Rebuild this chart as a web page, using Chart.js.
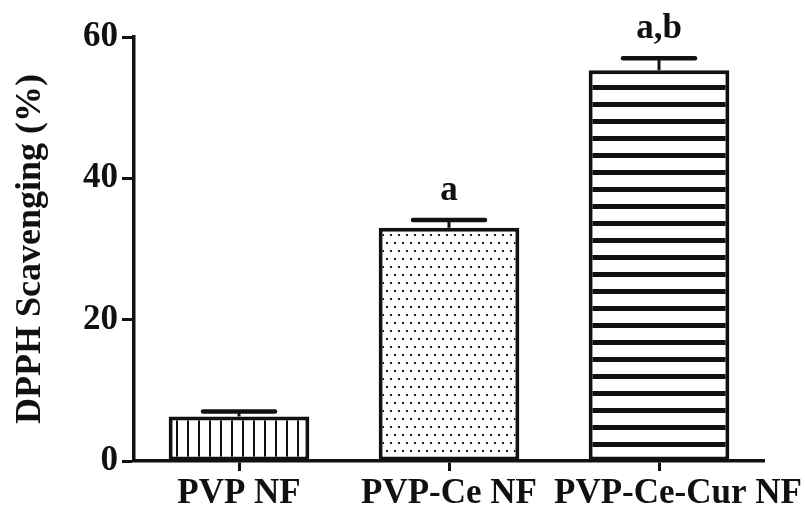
<!DOCTYPE html>
<html>
<head>
<meta charset="utf-8">
<script src="https://cdn.jsdelivr.net/npm/chart.js@4.4.1/dist/chart.umd.min.js"></script>
<style>
  html, body { margin: 0; padding: 0; background: #fff; }
  #wrap { width: 805px; height: 508px; position: relative; }
</style>
</head>
<body>
<div id="wrap"><canvas id="c" width="805" height="508"></canvas></div>
<script>
// ---- data ----
const categories = ['PVP NF', 'PVP-Ce NF', 'PVP-Ce-Cur NF'];
const scavenging = [6.3, 33.0, 55.3];
const errors = [0.7, 1.1, 1.7];
const sigLabels = ['', 'a', 'a,b'];
const yTicks = [0, 20, 40, 60];
const yTitle = 'DPPH Scavenging (%)';

const FONT = '"Liberation Serif", "Times New Roman", serif';
const labelShift = [0, 0, 19]; // horizontal nudge of category labels (px), as in the original figure

function makePattern(w, h, draw) {
  const c = document.createElement('canvas');
  c.width = w; c.height = h;
  const g = c.getContext('2d');
  g.fillStyle = '#fff'; g.fillRect(0, 0, w, h);
  draw(g);
  return document.getElementById('c').getContext('2d').createPattern(c, 'repeat');
}
const vLines = makePattern(11, 4, g => { g.fillStyle = '#111'; g.fillRect(0, 0, 2, 4); });
const dots = makePattern(8, 16, g => {
  g.fillStyle = '#222';
  g.fillRect(2, 2, 2, 2);
  g.fillRect(6, 10, 2, 2);
});
const hStripes = makePattern(4, 17, g => { g.fillStyle = '#111'; g.fillRect(0, 0, 4, 5); });

const errorBars = {
  id: 'errorBars',
  afterDatasetsDraw(chart) {
    const ctx = chart.ctx;
    const meta = chart.getDatasetMeta(0);
    const y = chart.scales.y;
    ctx.save();
    ctx.strokeStyle = '#111';
    ctx.fillStyle = '#111';
    meta.data.forEach((bar, i) => {
      const top = y.getPixelForValue(scavenging[i]);
      const hi = y.getPixelForValue(scavenging[i] + errors[i]);
      const x = bar.x;
      ctx.lineWidth = 3;
      ctx.beginPath(); ctx.moveTo(x, top); ctx.lineTo(x, hi); ctx.stroke();
      ctx.lineWidth = 4.5; ctx.lineCap = 'round';
      ctx.beginPath(); ctx.moveTo(x - 36, hi); ctx.lineTo(x + 36, hi); ctx.stroke();
      ctx.lineCap = 'butt';
      if (sigLabels[i]) {
        ctx.font = 'bold 35px ' + FONT;
        ctx.textAlign = 'center';
        ctx.textBaseline = 'alphabetic';
        ctx.fillText(sigLabels[i], x, hi - 20);
      }
    });
    ctx.restore();
  }
};

const xLabels = {
  id: 'xLabels',
  afterDraw(chart) {
    const ctx = chart.ctx;
    const xs = chart.scales.x;
    ctx.save();
    ctx.fillStyle = '#111';
    ctx.font = 'bold 35px ' + FONT;
    ctx.textAlign = 'center';
    ctx.textBaseline = 'alphabetic';
    categories.forEach((c, i) => {
      ctx.fillText(c, xs.getPixelForTick(i) + labelShift[i], xs.bottom - 5);
    });
    ctx.restore();
  }
};

new Chart(document.getElementById('c'), {
  type: 'bar',
  data: {
    labels: categories,
    datasets: [{
      data: scavenging,
      backgroundColor: [vLines, dots, hStripes],
      borderColor: '#111',
      borderWidth: 4,
      borderSkipped: false,
      categoryPercentage: 1.0,
      barPercentage: 0.67
    }]
  },
  options: {
    responsive: false,
    animation: false,
    devicePixelRatio: 1,
    layout: { padding: { top: 37, right: 41, left: 0, bottom: 0 } },
    plugins: { legend: { display: false }, tooltip: { enabled: false } },
    scales: {
      x: {
        grid: { display: true, drawOnChartArea: false, offset: false, tickLength: 10, tickWidth: 3, tickColor: '#111' },
        border: { display: true, color: '#111', width: 3.5 },
        ticks: { display: false, autoSkip: false },
        afterFit(s) { s.height = 47; }
      },
      y: {
        min: 0, max: 60,
        afterBuildTicks(s) { s.ticks = yTicks.map(v => ({ value: v })); },
        grid: { display: true, drawOnChartArea: false, tickLength: 12, tickWidth: 3, tickColor: '#111' },
        border: { display: true, color: '#111', width: 3.5 },
        ticks: { color: '#111', font: { family: FONT, size: 35, weight: 'bold' }, padding: 4 },
        title: { display: true, text: yTitle, color: '#111', font: { family: FONT, size: 36, weight: 'bold' }, padding: { top: 9, bottom: 0 } },
        afterFit(s) { s.width = 134; }
      }
    }
  },
  plugins: [errorBars, xLabels]
});
</script>
</body>
</html>
